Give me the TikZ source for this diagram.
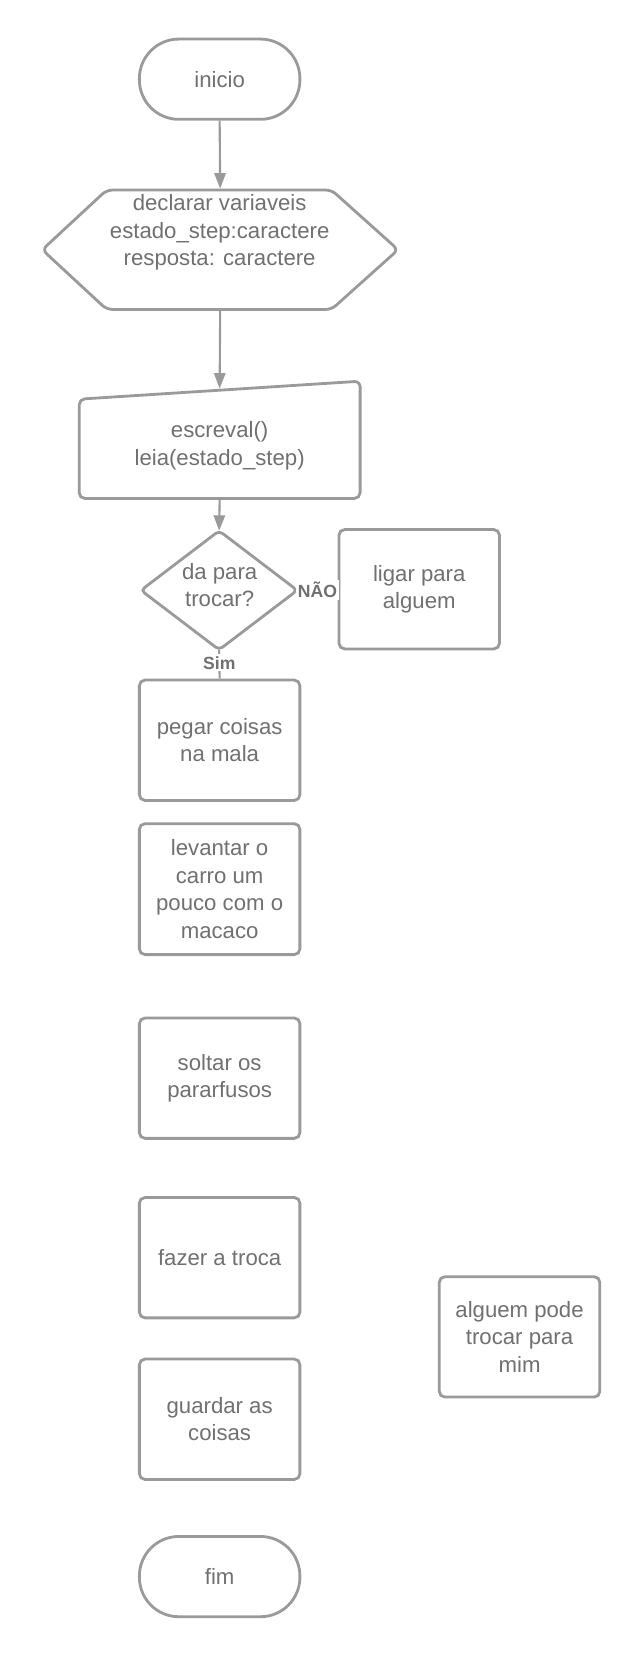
\documentclass[tikz,border=0pt]{standalone}
\usepackage{fontspec}
\setmainfont{Liberation Sans}
\usetikzlibrary{arrows.meta}
\definecolor{lc}{HTML}{9A9A9A}
\definecolor{tc}{HTML}{707070}
\begin{document}
\begin{tikzpicture}[x=0.75pt,y=-0.75pt,
  base/.style={draw=lc, line width=2pt, text=tc, font=\fontsize{15.75}{19.5}\selectfont, align=center, inner sep=0pt},
  procbox/.style={base, rounded corners=4pt, minimum width=114pt, minimum height=85.5pt},
  term/.style={base, rounded corners=28pt, minimum width=114pt, minimum height=57pt},
  ghost/.style={base, draw=none},
  shapeline/.style={draw=lc, line width=2pt, rounded corners=4pt},
  conn/.style={draw=lc, line width=1.5pt, -{Triangle[length=11pt,width=8pt]}},
  plainconn/.style={draw=lc, line width=1.5pt},
  lab/.style={fill=white, text=tc, font=\bfseries\fontsize{12.5}{14}\selectfont, inner sep=1.5pt}
]
\useasboundingbox (0,0) rectangle (606,1572);

% start
\node[term] (inicio) at (208,75) {inicio};

% declarations (hexagon)
\node[ghost, minimum width=252pt, minimum height=84.75pt] (decl) at (208.5,236.5) {};
\draw[shapeline] (40,236.5) -- (101,180) -- (314,180) -- (377,236.5) -- (314,293) -- (101,293) -- cycle;
\node[ghost] (decltext) at (208,220) {declarar variaveis\\estado\_step:caractere\\resposta: caractere};

% manual input
\node[ghost, minimum width=199.5pt, minimum height=83.25pt] (inp) at (208,416.5) {};
\draw[shapeline] (75,378) -- (341,361) -- (341,472) -- (75,472) -- cycle;
\node[ghost] (inptext) at (208,422) {escreval()\\leia(estado\_step)};
\coordinate (inptop) at (208,368);

% decision
\node[ghost, minimum width=109pt, minimum height=82.5pt] (dec) at (207.5,559) {};
\draw[draw=lc, line width=2pt, rounded corners=3pt] (dec.north) -- (dec.east) -- (dec.south) -- (dec.west) -- cycle;
\node[ghost] (dectext) at (208,554) {da para\\trocar?};

\node[procbox, minimum height=84.75pt] (ligar) at (397,558) {ligar para\\alguem};

% process steps
\node[procbox] (pegar) at (208,701) {pegar coisas\\na mala};
\node[procbox, minimum height=93pt] (levantar) at (208,842) {levantar o\\carro um\\pouco com o\\macaco};
\node[procbox] (soltar) at (208,1021) {soltar os\\pararfusos};
\node[procbox] (fazer) at (208,1191) {fazer a troca};
\node[procbox] (guardar) at (208,1344) {guardar as\\coisas};
\node[procbox] (alguem) at (492,1266) {alguem pode\\trocar para\\mim};

% end
\node[term] (fim) at (208,1493) {fim};

% connectors
\draw[conn] (inicio.south) -- (decl.north);
\draw[conn] (decl.south) -- (inptop);
\draw[conn] (inp.south) -- (dec.north);
\draw[plainconn] (dec.east) -- node[lab] {NÃO} (ligar.west);
\draw[plainconn] (dec.south) -- node[lab, pos=0.45] {Sim} (pegar.north);
\end{tikzpicture}
\end{document}
